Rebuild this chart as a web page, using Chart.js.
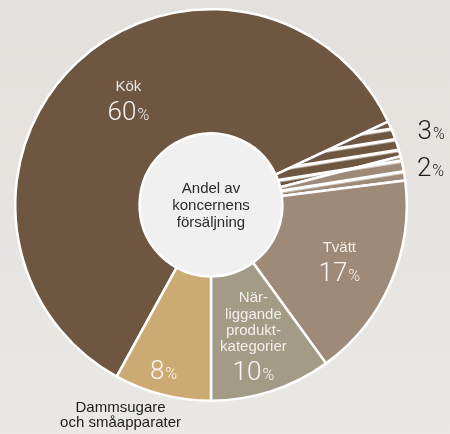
<!DOCTYPE html>
<html>
<head>
<meta charset="utf-8">
<script src="https://cdn.jsdelivr.net/npm/chart.js@4.4.1/dist/chart.umd.min.js"></script>
<style>
  html, body { margin: 0; padding: 0; }
  body { width: 450px; height: 434px; overflow: hidden; background: linear-gradient(#e4e0dd, #e9e8e4); }
</style>
</head>
<body>
<canvas id="pie" width="450" height="434"></canvas>
<script>
(function () {
  "use strict";

  // data
  const categories = ['Kök', 'Övrigt 1', 'Övrigt 2', 'Tvätt', 'Närliggande produktkategorier', 'Dammsugare och småapparater'];
  const shares = [60, 3, 2, 17, 10, 8];
  const sliceNames = [['Kök'], [], [], ['Tvätt'], ['När-', 'liggande', 'produkt-', 'kategorier'], ['Dammsugare', 'och småapparater']];
  const centerLines = ['Andel av', 'koncernens', 'försäljning'];

  const brown = '#6f5640';
  const taupe = '#9e8a78';

  function stripes(color) {
    const c = document.createElement('canvas');
    c.width = 12;
    c.height = 11;
    const g = c.getContext('2d');
    g.fillStyle = color;
    g.fillRect(0, 0, 12, 11);
    g.fillStyle = '#ffffff';
    g.fillRect(0, 0, 12, 3.5);
    const p = g.createPattern(c, 'repeat');
    p.setTransform(new DOMMatrix().rotate(-9));
    return p;
  }

  // where each label sits: f = fraction of ring width (or multiple of outer radius if out), da = angle nudge in degrees
  const placing = [
    {f: 0.5, da: 5, inside: true},
    {f: 1.19, da: 1, inside: false},
    {f: 1.14, da: 1, inside: false},
    {f: 0.55, da: 0, inside: true},
    {f: 0.53, da: 0, inside: true},
    {f: 0.81, da: 1.6, inside: true}
  ];

  const numFont = '300 26px Roboto';
  const pctFont = '300 16px Roboto';
  const nameFont = '15px "Liberation Sans"';

  function drawShare(ctx, value, x, y, color, alignLeft) {
    const num = String(value);
    ctx.font = numFont;
    const wn = ctx.measureText(num).width;
    ctx.font = pctFont;
    const wp = ctx.measureText('%').width;
    const start = alignLeft ? x : x - (wn + wp + 1) / 2;
    ctx.fillStyle = color;
    ctx.textAlign = 'left';
    ctx.textBaseline = 'alphabetic';
    ctx.font = numFont;
    ctx.fillText(num, start, y + 9);
    ctx.font = pctFont;
    ctx.fillText('%', start + wn + 1, y + 9);
  }

  const centerDisc = {
    id: 'centerDisc',
    beforeDatasetsDraw(chart) {
      const arc = chart.getDatasetMeta(0).data[0];
      const {x, y, innerRadius} = arc.getProps(['x', 'y', 'innerRadius'], true);
      const ctx = chart.ctx;
      ctx.save();
      ctx.fillStyle = '#f0f0f0';
      ctx.beginPath();
      ctx.arc(x, y, innerRadius, 0, Math.PI * 2);
      ctx.fill();
      ctx.restore();
    },
    afterDatasetsDraw(chart) {
      const ctx = chart.ctx;
      const meta = chart.getDatasetMeta(0);
      ctx.save();

      meta.data.forEach((arc, i) => {
        const p = arc.getProps(['x', 'y', 'startAngle', 'endAngle', 'innerRadius', 'outerRadius'], true);
        const pl = placing[i];
        const mid = (p.startAngle + p.endAngle) / 2 + pl.da * Math.PI / 180;
        const d = pl.inside ? p.innerRadius + (p.outerRadius - p.innerRadius) * pl.f : p.outerRadius * pl.f;
        const lx = p.x + Math.cos(mid) * d;
        const ly = p.y + Math.sin(mid) * d;
        const names = sliceNames[i];

        if (i === 1 || i === 2) {
          drawShare(ctx, shares[i], lx - 14, ly, '#1e1e1e', true);
        } else if (i === 5) {
          drawShare(ctx, shares[i], lx, ly, 'rgba(255,255,255,0.9)');
          ctx.font = nameFont;
          ctx.fillStyle = '#1e1e1e';
          ctx.textAlign = 'center';
          ctx.textBaseline = 'middle';
          ctx.fillText(names[0], lx - 43, ly + 37);
          ctx.fillText(names[1], lx - 43, ly + 52);
        } else {
          const lh = 16.3;
          const top = ly - (names.length * lh + 26) / 2 + lh / 2;
          ctx.font = nameFont;
          ctx.fillStyle = 'rgba(255,255,255,0.85)';
          ctx.textAlign = 'center';
          ctx.textBaseline = 'middle';
          names.forEach((t, k) => ctx.fillText(t, lx, top + k * lh));
          drawShare(ctx, shares[i], lx, top + names.length * lh + 8, 'rgba(255,255,255,0.92)');
        }
      });

      const c = meta.data[0].getProps(['x', 'y'], true);
      ctx.font = '15px "Liberation Sans"';
      ctx.fillStyle = '#2b2b2b';
      ctx.textAlign = 'center';
      ctx.textBaseline = 'middle';
      centerLines.forEach((t, k) => ctx.fillText(t, c.x, c.y - 16 + k * 17));
      ctx.restore();
    }
  };

  new Chart(document.getElementById('pie'), {
    type: 'doughnut',
    data: {
      labels: categories,
      datasets: [{
        data: shares,
        backgroundColor: [brown, stripes(brown), stripes(taupe), taupe, '#a39b85', '#cbaa74'],
        borderColor: '#ffffff',
        borderWidth: 2.5
      }]
    },
    options: {
      responsive: false,
      animation: false,
      rotation: 208.8,
      cutout: '36.5%',
      layout: {
        padding: {left: 14, right: 42, top: 8, bottom: 32}
      },
      plugins: {
        legend: {display: false},
        tooltip: {enabled: false}
      }
    },
    plugins: [centerDisc]
  });
})();
</script>
</body>
</html>
